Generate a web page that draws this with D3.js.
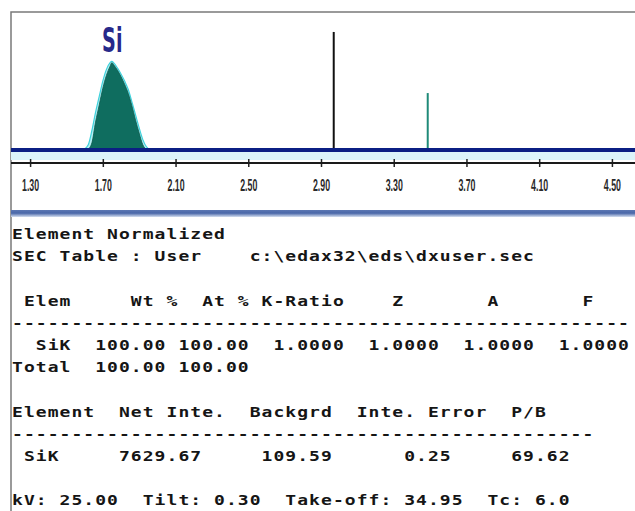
<!DOCTYPE html>
<html>
<head>
<meta charset="utf-8">
<script src="https://cdn.jsdelivr.net/npm/d3@7"></script>
<style>
  body { margin: 0; background: #fff; }
  svg { display: block; }
</style>
</head>
<body>
<div id="chart"></div>
<script>
// energy axis ticks (keV)
const tickValues = [1.30, 1.70, 2.10, 2.50, 2.90, 3.30, 3.70, 4.10, 4.50];

// Si K peak, measured spectrum (keV / counts)
const siEnergy = [1.60, 1.62, 1.64, 1.66, 1.68, 1.70, 1.72, 1.74, 1.75, 1.76, 1.78, 1.80, 1.82, 1.84, 1.86, 1.88, 1.90, 1.92, 1.94, 1.96];
const siCounts = [0, 8, 55, 215, 345, 475, 575, 645, 672, 655, 615, 565, 505, 435, 340, 230, 130, 40, 6, 0];

// overlay outline around the peak
const fitEnergy = [1.57, 1.60, 1.62, 1.64, 1.66, 1.68, 1.70, 1.72, 1.74, 1.75, 1.76, 1.78, 1.80, 1.82, 1.84, 1.86, 1.88, 1.90, 1.92, 1.94, 1.96, 1.98];
const fitCounts = [0, 10, 40, 150, 290, 410, 530, 620, 672, 682, 670, 632, 585, 530, 465, 370, 270, 170, 80, 25, 5, 0];

// single-channel lines
const lineEnergy = [2.97, 3.487];
const lineCounts = [908, 438];

const peakLabels = ["Si"];
const peakLabelEnergy = [1.752];

// quantification report
const reportLines = [
  "Element Normalized",
  "SEC Table : User    c:\\edax32\\eds\\dxuser.sec",
  "",
  " Elem     Wt %  At % K-Ratio    Z       A       F",
  "----------------------------------------------------",
  "  SiK  100.00 100.00  1.0000  1.0000  1.0000  1.0000",
  "Total  100.00 100.00",
  "",
  "Element  Net Inte.  Backgrd  Inte. Error  P/B",
  "-------------------------------------------------",
  " SiK     7629.67     109.59      0.25     69.62",
  "",
  "kV: 25.00  Tilt: 0.30  Take-off: 34.95  Tc: 6.0"
];

const width = 635, height = 511;
const frameLeft = 11, frameTop = 12;
const lineColors = ["#111", "#1f8a78"];

const svg = d3.select("#chart").append("svg")
  .attr("width", width)
  .attr("height", height);

// frame
svg.append("path")
  .attr("d", `M${frameLeft},${height} V${frameTop} H${width}`)
  .attr("fill", "none")
  .attr("stroke", "#7a7a7a")
  .attr("stroke-width", 1.5);

const x = d3.scaleLinear().domain([1.195, 4.627]).range([frameLeft, width]);
const y = d3.scaleLinear().domain([0, 1000]).range([150, 20]);

const area = d3.area()
  .curve(d3.curveMonotoneX)
  .x(d => x(d[0]))
  .y0(y(0))
  .y1(d => y(d[1]));

const fitData = fitEnergy.map((e, i) => [e, fitCounts[i]]);
const siData = siEnergy.map((e, i) => [e, siCounts[i]]);

svg.append("path")
  .datum(fitData)
  .attr("d", area)
  .attr("fill", "#b6eff3")
  .attr("stroke", "#3fd2dc")
  .attr("stroke-width", 1.2);

svg.append("path")
  .datum(siData)
  .attr("d", area)
  .attr("fill", "#0f6d5f")
  .attr("stroke", "#0b5a4e")
  .attr("stroke-width", 0.8);

svg.selectAll(".chan")
  .data(lineEnergy)
  .enter()
    .append("line")
    .attr("class", "chan")
    .attr("x1", d => x(d))
    .attr("x2", d => x(d))
    .attr("y1", y(0))
    .attr("y2", (d, i) => y(lineCounts[i]))
    .attr("stroke", (d, i) => lineColors[i])
    .attr("stroke-width", 2);

// peak label
svg.selectAll(".plabel")
  .data(peakLabels)
  .enter()
    .append("text")
    .attr("class", "plabel")
    .attr("transform", (d, i) => `translate(${x(peakLabelEnergy[i])},52) scale(0.58,1)`)
    .attr("text-anchor", "middle")
    .attr("font-family", "DejaVu Sans")
    .attr("font-weight", "bold")
    .attr("font-size", 33)
    .attr("fill", "#27298a")
    .text(d => d);

// baseline and band
svg.append("rect")
  .attr("x", frameLeft).attr("y", 152)
  .attr("width", width - frameLeft).attr("height", 8)
  .attr("fill", "#dcf5fb");

svg.append("line")
  .attr("x1", frameLeft).attr("x2", width)
  .attr("y1", y(0)).attr("y2", y(0))
  .attr("stroke", "#0b1f84")
  .attr("stroke-width", 4);

// energy axis
const xAxis = d3.axisBottom(x)
  .tickValues(tickValues)
  .tickSize(8)
  .tickFormat(d3.format(".2f"));

const gx = svg.append("g")
  .attr("transform", "translate(0,159)")
  .call(xAxis);

gx.select(".domain").remove();
gx.selectAll(".tick line")
  .attr("stroke", "#222")
  .attr("stroke-width", 1.5);
gx.selectAll(".tick text")
  .attr("y", 0)
  .attr("dy", 0)
  .attr("transform", "translate(0,32) scale(0.55,1)")
  .attr("font-family", "Liberation Sans, Arial, sans-serif")
  .attr("font-weight", "bold")
  .attr("font-size", 16)
  .attr("fill", "#2a2a2a");

svg.append("line")
  .attr("x1", frameLeft).attr("x2", width)
  .attr("y1", 163).attr("y2", 163)
  .attr("stroke", "#1a1a1a")
  .attr("stroke-width", 2);

// separator
const grad = svg.append("defs").append("linearGradient")
  .attr("id", "sep")
  .attr("x1", 0).attr("x2", 0).attr("y1", 0).attr("y2", 1);
grad.append("stop").attr("offset", "0%").attr("stop-color", "#5b77b3");
grad.append("stop").attr("offset", "45%").attr("stop-color", "#4a67a8");
grad.append("stop").attr("offset", "100%").attr("stop-color", "#d3def0");

svg.append("rect")
  .attr("x", frameLeft).attr("y", 210)
  .attr("width", width - frameLeft).attr("height", 7)
  .attr("fill", "url(#sep)");

// report text, squat terminal look
const lineStep = 22.2;
svg.append("g")
  .selectAll("text")
  .data(reportLines)
  .enter()
    .append("text")
    .attr("transform", (d, i) => `translate(${frameLeft + 1},${239 + i * lineStep}) scale(1,0.8)`)
    .attr("xml:space", "preserve")
    .style("white-space", "pre")
    .attr("font-family", "DejaVu Sans Mono, monospace")
    .attr("font-weight", "bold")
    .attr("font-size", 18)
    .attr("letter-spacing", 1.06)
    .attr("fill", "#151515")
    .text(d => d);
</script>
</body>
</html>
